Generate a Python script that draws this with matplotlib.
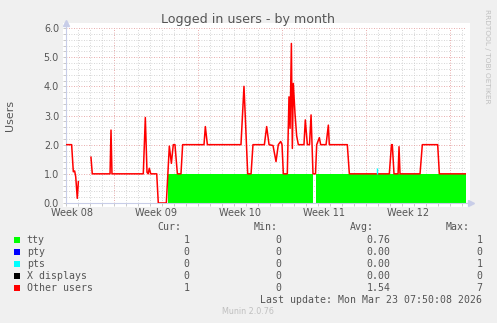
import numpy as np
import matplotlib
matplotlib.use("Agg")
import matplotlib.pyplot as plt
from matplotlib.patches import Rectangle
from matplotlib.ticker import FixedLocator, MultipleLocator, NullFormatter

# ---------------- data ----------------
# x axis: days relative to Monday of week 09 (2026-02-23)
week_starts = [-7, 0, 7, 14, 21]
week_labels = ["Week 08", "Week 09", "Week 10", "Week 11", "Week 12"]
x_min, x_max = -4.0, 29.33

# "Other users" (red line)
other_days = [-4.0, -3.53, -3.39, -3.28, -3.19, -3.06, -2.97, -2.5,
              -1.92, -1.81, -0.33, -0.25, -0.17, 2.44, 2.61, 2.75, 2.85, 2.94, 3.06,
              3.56, 3.69, 4.36, 4.61, 4.78, 4.94, 5.08, 5.28, 5.58, 5.72,
              7.5, 7.61, 7.78, 10.58, 10.83, 10.98, 11.14, 11.42, 11.58,
              12.53, 12.72, 12.92, 13.25, 13.5, 13.69, 13.89, 14.0, 14.11, 14.44,
              14.58, 14.67, 14.78, 14.86, 14.94, 15.08, 15.22, 15.36,
              15.83, 15.94, 16.11, 16.29, 16.42, 16.58, 16.79, 16.89,
              17.11, 17.22, 17.67, 17.86, 17.94, 19.44, 19.61,
              22.94, 23.12, 23.19, 23.33, 23.67, 23.75, 23.83,
              25.5, 25.69, 26.97, 27.11, 29.31]
other_vals = [2.0, 2.0, 1.07, 1.1, 0.9, 0.16, 0.73, np.nan,
              1.57, 1.0, 1.0, 2.5, 1.0, 1.0, 2.93, 1.05, 1.0, 1.19, 1.0,
              1.0, 0.0, 0.0, 1.95, 1.36, 2.0, 2.0, 1.0, 1.0, 2.0,
              2.0, 2.62, 2.0, 2.0, 4.0, 2.56, 1.0, 1.0, 2.0,
              2.0, 2.62, 2.0, 1.97, 1.42, 2.0, 2.11, 2.0, 1.0, 1.0,
              3.64, 2.56, 5.47, 1.87, 4.1, 3.07, 2.3, 2.0,
              2.0, 2.85, 2.0, 2.0, 3.02, 1.0, 1.0, 2.0,
              2.24, 2.0, 2.0, 2.67, 2.0, 2.0, 1.0,
              1.0, 2.0, 2.0, 1.0, 1.0, 1.93, 1.0,
              1.0, 2.0, 2.0, 1.0, 1.0]

# "tty" (green area, step data)
tty_days = [-4.0, 4.5, 16.56, 16.86, 29.31]
tty_vals = [0, 1, 0, 1, 1]

# "pts" (cyan, stacked on tty) single short spike
pts_day = 21.94
pts_val = 0.2

# legend table
series_names = ["tty", "pty", "pts", "X displays", "Other users"]
series_colors = ["#00FF00", "#0000FF", "#00FFFF", "#000000", "#FF0000"]
cur_vals = ["1", "0", "0", "0", "1"]
min_vals = ["0", "0", "0", "0", "0"]
avg_vals = ["0.76", "0.00", "0.00", "0.00", "1.54"]
max_vals = ["1", "0", "1", "0", "7"]

# ---------------- figure ----------------
W, H = 497, 323
fig = plt.figure(figsize=(W / 100, H / 100), dpi=100, facecolor="#F0F0F0")

def fx(x):
    return x / W

def fy(y):
    return 1 - y / H

txt_col = "#555555"

# white canvas behind the graph
fig.patches.append(Rectangle((fx(63), fy(207)), fx(470) - fx(63), fy(23) - fy(207),
                             transform=fig.transFigure, facecolor="white",
                             edgecolor="none", zorder=-5))

L, R, T, B = 66, 466, 28, 203
ax = fig.add_axes([fx(L), fy(B), fx(R) - fx(L), fy(T) - fy(B)])
ax.set_facecolor("none")

# data
ax.fill_between(tty_days, 0, tty_vals, step="post", color="#00FF00", linewidth=0, zorder=2)
tty_at_pts = tty_vals[np.searchsorted(tty_days, pts_day, side="right") - 1]
ax.vlines(pts_day, tty_at_pts, tty_at_pts + pts_val, color="#00FFFF", linewidth=1.0, zorder=5)
ax.plot(other_days, other_vals, color="#FF0000", linewidth=1.1, zorder=4, solid_joinstyle="round")

# grid / ticks
ax.xaxis.set_major_locator(FixedLocator([ws + 7 for ws in week_starts]))
ax.xaxis.set_minor_locator(MultipleLocator(1))
ax.yaxis.set_major_locator(MultipleLocator(1))
ax.yaxis.set_minor_locator(MultipleLocator(0.2))
ax.xaxis.set_major_formatter(NullFormatter())
ax.xaxis.set_minor_formatter(NullFormatter())
ax.yaxis.set_major_formatter(matplotlib.ticker.FormatStrFormatter("%.1f"))
ax.grid(which="minor", color="#C8C8C8", linestyle=(0, (1, 2)), linewidth=0.6)
ax.grid(which="major", color="#E09090", linestyle=(0, (1, 2)), linewidth=0.6)
ax.set_axisbelow(True)
ax.tick_params(axis="both", which="both", length=2, width=0.6, color="#C0C0C0", pad=3)
ax.tick_params(axis="y", labelsize=6.9, labelcolor=txt_col)
ax.tick_params(axis="x", which="both", labelbottom=False)

ax.set_xlim(x_min, x_max)
ax.set_ylim(0, 6)

for ws, lab in zip(week_starts, week_labels):
    ax.text(ws + 3.5, -0.17, lab, ha="center", va="top", fontsize=7.05, color=txt_col,
            clip_on=False)

for s in ["top", "right"]:
    ax.spines[s].set_visible(False)
for s in ["left", "bottom"]:
    ax.spines[s].set_color("#C8CDE8")
    ax.spines[s].set_linewidth(0.8)
# axis extension with arrows
ax.plot([1, 1.012], [0, 0], transform=ax.transAxes, color="#C8CDE8", lw=0.8, clip_on=False)
ax.plot([1.012], [0], transform=ax.transAxes, marker=">", color="#C8CDE8", ms=4, clip_on=False)
ax.plot([0, 0], [1, 1.03], transform=ax.transAxes, color="#C8CDE8", lw=0.8, clip_on=False)
ax.plot([0], [1.03], transform=ax.transAxes, marker="^", color="#C8CDE8", ms=4, clip_on=False)
ax.set_xlim(x_min, x_max)
ax.set_ylim(0, 6)

# titles
fig.text(fx(248), fy(19), "Logged in users - by month", ha="center", va="center",
         fontsize=9.05, color=txt_col)
fig.text(fx(10), fy(115), "Users", ha="center", va="center", rotation=90,
         fontsize=7.9, color=txt_col)
fig.text(fx(487), fy(56), "RRDTOOL / TOBI OETIKER", ha="center", va="center",
         rotation=270, fontsize=5.3, color="#C0C0C0")

# legend table
mono = "DejaVu Sans Mono"
fs = 7.1
hdr_y = 227.3
for lab, xr in zip(["Cur:", "Min:", "Avg:", "Max:"], [181.7, 277.3, 374, 470]):
    fig.text(fx(xr), fy(hdr_y), lab, ha="right", va="center", family=mono, fontsize=fs,
             color=txt_col)
row_y0, row_dy = 240, 11.95
for i, name in enumerate(series_names):
    y = row_y0 + i * row_dy
    fig.patches.append(Rectangle((fx(14), fy(y + 3)), fx(6), fy(0) - fy(6),
                                 transform=fig.transFigure, facecolor=series_colors[i],
                                 edgecolor="none"))
    fig.text(fx(26.7), fy(y), name, ha="left", va="center", family=mono, fontsize=fs,
             color=txt_col)
    for val, xr in zip([cur_vals[i], min_vals[i], avg_vals[i], max_vals[i]],
                       [189.3, 281, 390.7, 482.3]):
        fig.text(fx(xr), fy(y), val, ha="right", va="center", family=mono, fontsize=fs,
                 color=txt_col)

fig.text(fx(482.3), fy(299.7), "Last update: Mon Mar 23 07:50:08 2026", ha="right",
         va="center", family=mono, fontsize=fs, color=txt_col)
fig.text(fx(248), fy(311.7), "Munin 2.0.76", ha="center", va="center", fontsize=5.75,
         color="#C0C0C0")

fig.savefig("out.png", dpi=100, facecolor=fig.get_facecolor())
